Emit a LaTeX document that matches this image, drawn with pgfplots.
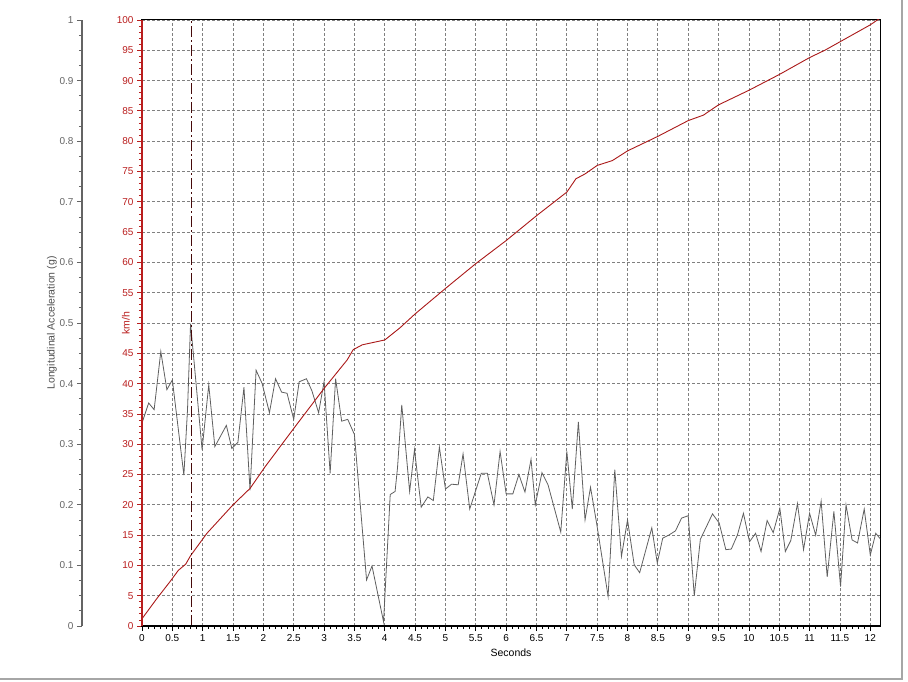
\documentclass[border=0pt]{standalone}
\usepackage{fontspec}
\setmainfont{Liberation Sans}
\usepackage{pgfplots}
\pgfplotsset{compat=1.18}
\usepackage{pgfplotstable}

\definecolor{axred}{RGB}{185,30,30}
\definecolor{spd}{RGB}{170,25,25}
\definecolor{acc}{RGB}{95,95,95}
\definecolor{gridc}{RGB}{128,128,128}
\definecolor{outer}{RGB}{100,100,100}
\definecolor{cursor}{RGB}{70,10,10}

% longitudinal acceleration, g
\pgfplotstableread{
t g
0.00 0.335
0.11 0.368
0.20 0.357
0.31 0.453
0.41 0.390
0.50 0.406
0.69 0.249
0.75 0.357
0.80 0.499
0.86 0.434
0.99 0.291
1.10 0.398
1.20 0.296
1.39 0.331
1.48 0.293
1.58 0.303
1.68 0.394
1.78 0.224
1.88 0.422
1.98 0.400
2.10 0.352
2.20 0.408
2.30 0.386
2.39 0.384
2.50 0.341
2.59 0.403
2.71 0.408
2.80 0.388
2.91 0.352
3.00 0.403
3.10 0.252
3.19 0.408
3.29 0.338
3.39 0.341
3.50 0.316
3.70 0.076
3.79 0.099
3.98 0.007
4.09 0.217
4.17 0.222
4.21 0.261
4.28 0.365
4.41 0.222
4.49 0.291
4.60 0.196
4.71 0.213
4.80 0.207
4.90 0.295
5.00 0.226
5.10 0.234
5.21 0.233
5.29 0.284
5.40 0.193
5.59 0.252
5.69 0.252
5.80 0.200
5.90 0.288
6.00 0.218
6.11 0.218
6.21 0.250
6.31 0.221
6.41 0.275
6.48 0.200
6.59 0.253
6.69 0.233
6.90 0.155
7.00 0.288
7.09 0.193
7.19 0.337
7.30 0.175
7.39 0.229
7.49 0.170
7.68 0.049
7.79 0.258
7.90 0.115
8.00 0.175
8.11 0.101
8.20 0.088
8.40 0.162
8.49 0.104
8.58 0.145
8.68 0.150
8.79 0.157
8.89 0.178
9.00 0.182
9.10 0.050
9.20 0.143
9.40 0.185
9.51 0.170
9.62 0.126
9.71 0.127
9.81 0.150
9.91 0.186
10.01 0.139
10.11 0.153
10.20 0.123
10.30 0.174
10.40 0.154
10.51 0.194
10.60 0.123
10.69 0.141
10.80 0.202
10.90 0.126
11.00 0.186
11.10 0.150
11.19 0.206
11.29 0.081
11.40 0.189
11.51 0.065
11.60 0.200
11.70 0.142
11.79 0.137
11.90 0.193
12.00 0.117
12.09 0.153
12.18 0.142
}\accdata

% speed, km/h
\pgfplotstableread{
t v
0.00 1.2
0.25 4.6
0.46 7.3
0.60 9.2
0.72 10.2
0.80 11.6
1.07 15.3
1.50 20.0
1.78 22.7
2.03 26.3
2.50 32.6
3.00 39.2
3.38 43.9
3.48 45.6
3.63 46.4
4.00 47.2
4.25 49.2
4.50 51.5
5.00 55.7
5.50 59.8
6.00 63.6
6.50 67.7
7.00 71.6
7.15 73.8
7.30 74.6
7.50 76.0
7.75 76.8
8.00 78.4
8.50 80.8
9.00 83.4
9.25 84.3
9.50 86.0
10.00 88.4
10.50 91.0
11.00 93.8
11.25 95.0
11.50 96.4
12.00 99.2
12.16 100.3
}\spddata

\begin{document}
\begin{tikzpicture}[font=\fontsize{10}{12}\selectfont]
\path[use as bounding box] (-142pt,-55pt) rectangle (766pt,626pt);

% grid, ticks and labels (km/h scale)
\begin{axis}[
    name=main,
    scale only axis,
    width=738pt, height=606pt,
    xmin=0, xmax=12.16, ymin=0, ymax=100,
    xtick={0,0.5,...,12}, minor x tick num=4,
    ytick={0,5,...,100},
    yticklabels={0,5,10,15,20,25,30,35,40,45,,55,60,65,70,75,80,85,90,95,100},
    minor y tick num=4,
    tick pos=left, tick align=outside,
    major tick length=5pt, minor tick length=3pt,
    axis line style={black, line width=1pt},
    x tick style={black, line width=0.8pt},
    y tick style={axred, line width=0.8pt},
    yticklabel style={text=axred},
    /pgf/number format/assume math mode=true,
    grid=major,
    grid style={gridc, line width=0.8pt, dash pattern=on 3pt off 2pt},
    xlabel={Seconds},
    xlabel style={font=\fontsize{10.5}{12}\selectfont},
    ylabel={km/h},
    ylabel style={text=axred, font=\fontsize{10.5}{12}\selectfont,
        at={(axis description cs:-0.0217,0.5)}, anchor=center},
]
\end{axis}

% acceleration trace
\begin{axis}[
    scale only axis, hide axis,
    width=738pt, height=606pt,
    xmin=0, xmax=12.16, ymin=0, ymax=1,
]
\addplot[acc, line width=0.8pt] table[x=t, y=g] {\accdata};
\end{axis}

% speed trace and cursor
\begin{axis}[
    scale only axis, hide axis,
    width=738pt, height=606pt,
    xmin=0, xmax=12.16, ymin=0, ymax=100,
]
\addplot[spd, line width=0.9pt] table[x=t, y=v] {\spddata};
\addplot[cursor, line width=1pt, dash pattern=on 11pt off 3pt on 2pt off 3pt]
    coordinates {(0.81,0) (0.81,100)};
\end{axis}

% outer acceleration axis
\begin{axis}[
    scale only axis,
    at={(-60pt,0pt)}, anchor=south west,
    width=10pt, height=606pt,
    xmin=0, xmax=1, ymin=0, ymax=1,
    axis x line=none, axis y line*=left,
    xtick=\empty,
    ytick={0,0.1,0.2,0.3,0.4,0.5,0.6,0.7,0.8,0.9,1},
    minor y tick num=3,
    tick align=outside,
    major tick length=5pt, minor tick length=3pt,
    axis line style={outer, line width=2.5pt},
    y tick style={outer, line width=0.8pt},
    yticklabel style={text=outer},
    /pgf/number format/assume math mode=true,
    ylabel={Longitudinal Acceleration (g)},
    ylabel style={text=outer!80!black, font=\fontsize{10.5}{12}\selectfont,
        at={(axis description cs:-3,0.5)}, anchor=center},
]
\end{axis}

% heavier bottom and red left axis lines
\draw[black, line width=2pt] (main.south west) -- (main.south east);
\draw[axred, line width=2pt] (main.south west) -- (main.north west);

% window edge
\draw[gray!70, line width=1.5pt] (-142pt,-53pt) -- (760pt,-53pt) -- (760pt,626pt);
\end{tikzpicture}
\end{document}
